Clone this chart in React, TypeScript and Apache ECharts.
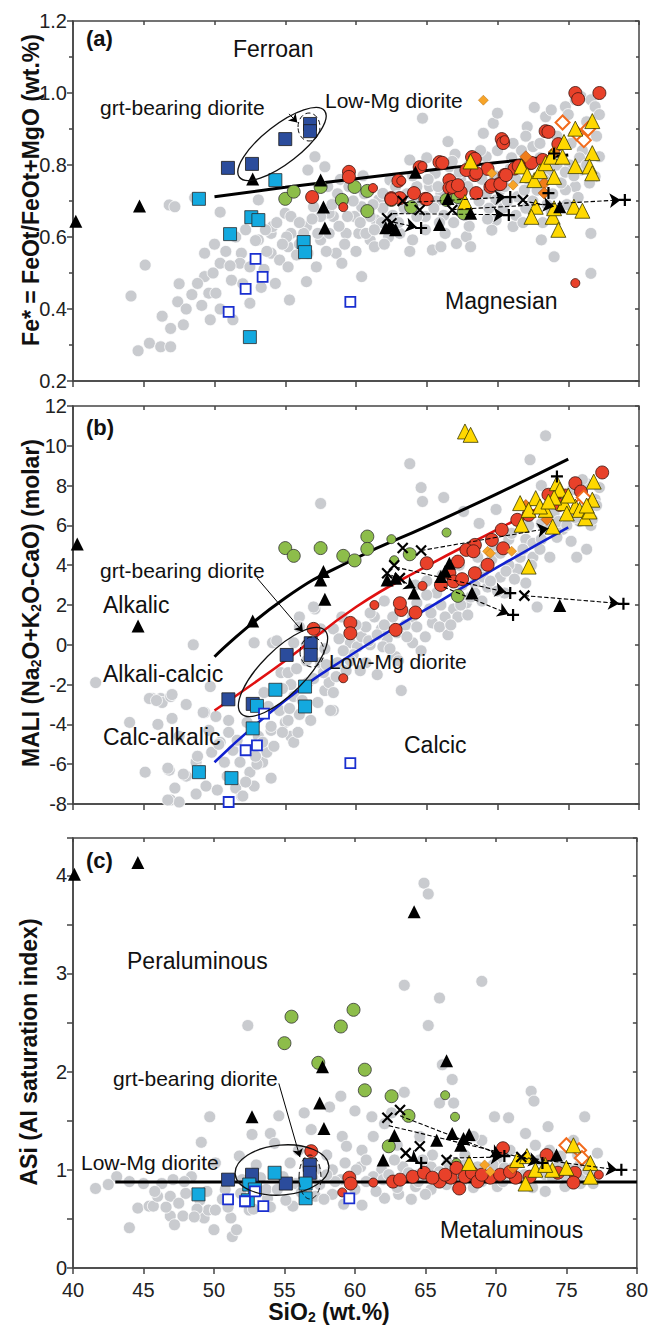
import React, { useEffect, useRef } from 'react';
import * as echarts from 'echarts';

const FONT = '"Liberation Sans", Arial, Helvetica, sans-serif';

// ---------- axes ----------
const siO2Range = [40, 80];
const feRange = [0.2, 1.2];
const maliRange = [-8, 12];
const asiRange = [0, 4.38];

// ---------- panel (a) Fe* ----------
const grayA = [[44.6,0.284],[45.4,0.305],[46.2,0.295],[46.9,0.295],[46.9,0.346],[47.8,0.356],[44.1,0.436],[45.1,0.522],[46.8,0.689],[47.2,0.684],[48.6,0.709],[49.3,0.555],[49.3,0.49],[48.8,0.471],[49.6,0.444],[50.1,0.444],[49.7,0.37],[50.4,0.527],[50.4,0.669],[51.2,0.48],[51.3,0.37],[51.9,0.555],[51.8,0.527],[52.5,0.416],[52.5,0.517],[53.1,0.592],[54.0,0.61],[54.1,0.629],[53.1,0.703],[54.0,0.555],[54.3,0.471],[54.6,0.536],[55.2,0.573],[55.2,0.517],[55.3,0.425],[55.0,0.666],[55.4,0.657],[56.5,0.629],[56.5,0.476],[56.3,0.61],[56.6,0.555],[57.2,0.517],[57.1,0.823],[57.5,0.592],[58.1,0.61],[58.4,0.657],[58.6,0.555],[59.0,0.527],[59.3,0.61],[59.9,0.657],[60.4,0.49],[60.2,0.61],[60.4,0.684],[61.0,0.592],[61.3,0.573],[61.4,0.647],[61.6,0.703],[61.9,0.721],[62.4,0.758],[62.8,0.74],[63.1,0.61],[63.8,0.814],[64.0,0.592],[64.3,0.74],[64.7,0.93],[64.9,0.657],[65.4,0.564],[65.6,0.777],[66.0,0.573],[66.5,0.865],[66.6,0.795],[67.1,0.582],[67.8,0.601],[68.1,0.573],[69.0,0.888],[69.2,0.823],[69.7,0.916],[70.0,0.944],[69.9,0.703],[69.9,0.647],[71.1,0.86],[71.1,0.629],[72.1,0.906],[72.5,0.851],[73.1,0.592],[73.4,0.934],[73.8,0.953],[74.8,0.962],[74.0,0.545],[75.5,0.981],[75.9,0.99],[76.6,0.981],[76.9,0.962],[77.2,0.823],[76.6,0.61],[76.6,0.499],[75.5,0.74],[75.9,0.786],[74.8,0.731],[76.9,0.768],[71.4,0.712],[70.2,0.731],[69.6,0.619],[67.4,0.758],[65.2,0.74],[64.3,0.657],[62.9,0.712],[61.0,0.657],[60.7,0.61],[59.4,0.657],[58.7,0.703],[58.1,0.666],[57.5,0.657],[57.0,0.684],[56.6,0.786],[57.8,0.795],[55.4,0.61],[66.0,0.72],[65.7,0.70],[67.9,0.74],[68.7,0.70],[70.4,0.68],[72.5,0.70],[73.9,0.72],[72.3,0.75],[73.7,0.78],[75.1,0.80],[71.3,0.66],[69.3,0.65],[63.4,0.68],[64.9,0.62],[66.3,0.61],[68.0,0.63],[61.9,0.68],[60.3,0.64],[59.2,0.58],[57.9,0.56],[56.0,0.58],[55.1,0.60],[53.7,0.56],[52.9,0.59],[53.5,0.51],[51.5,0.60],[50.8,0.56],[49.9,0.50],[48.4,0.44],[47.4,0.42],[46.3,0.38],[52.0,0.47],[50.4,0.40],[53.3,0.46],[58.7,0.72],[62.6,0.66],[65.5,0.68],[67.5,0.69],[71.9,0.73],[74.5,0.75],[73.0,0.82],[70.9,0.79],[68.3,0.77],[75.2,0.86],[74.2,0.88],[76.0,0.84],[76.3,0.92],[73.0,0.86],[71.7,0.84],[58.0,0.74],[58.9,0.76],[59.8,0.70],[60.6,0.72],[61.2,0.69],[61.8,0.64],[62.3,0.60],[63.0,0.64],[63.6,0.72],[64.4,0.70],[64.0,0.77],[65.1,0.76],[65.8,0.74],[66.2,0.66],[66.9,0.64],[67.3,0.78],[68.0,0.80],[68.9,0.76],[69.2,0.72],[69.8,0.77],[70.5,0.74],[70.7,0.70],[71.3,0.76],[72.0,0.68],[72.8,0.73],[73.3,0.76],[73.5,0.69],[74.2,0.80],[74.8,0.78],[75.4,0.77],[75.8,0.82],[76.3,0.80],[76.5,0.75],[75.7,0.71],[74.9,0.69],[73.8,0.67],[70.0,0.84],[71.0,0.82],[68.8,0.84],[67.0,0.83],[66.8,0.81],[65.0,0.82],[60.5,0.77],[59.5,0.74],[58.3,0.69],[56.9,0.65],[56.0,0.64],[55.8,0.55],[54.8,0.58],[54.4,0.64],[53.6,0.62],[52.2,0.62],[51.1,0.52],[50.0,0.58],[49.1,0.41],[48.0,0.40],[47.5,0.47],[61.3,0.62],[62.0,0.58],[60.0,0.56],[58.8,0.63],[57.3,0.61],[63.8,0.56],[65.9,0.64],[67.7,0.66],[69.4,0.68],[71.8,0.64],[73.2,0.64],[77.0,0.88],[77.2,0.94],[75.0,0.94],[72.6,0.96],[72.0,0.88]];
const redA = [[75.5,1.0],[75.7,0.983],[77.2,1.0],[73.4,0.894],[70.3,0.872],[70.4,0.861],[65.9,0.808],[68.2,0.822],[69.3,0.789],[68.4,0.772],[67.8,0.786],[70.5,0.772],[71.2,0.79],[72.3,0.805],[66.6,0.758],[67.0,0.739],[67.4,0.725],[66.6,0.736],[68.5,0.722],[69.5,0.739],[70.1,0.747],[64.5,0.794],[63.0,0.756],[64.1,0.722],[62.5,0.708],[63.1,0.708],[64.9,0.706],[59.5,0.781],[59.5,0.767],[56.9,0.711],[62.5,0.705],[65.0,0.705],[66.1,0.806],[66.8,0.739],[67.2,0.744],[68.4,0.817],[68.5,0.778],[69.6,0.744],[70.2,0.747],[70.6,0.772],[71.5,0.797],[72.4,0.806],[73.6,0.892],[74.3,0.858],[73.2,0.814]];
const redSmallA = [[59.1,0.683],[61.2,0.736],[63.2,0.756],[64.7,0.797],[75.5,0.472],[70.5,0.869]];
const greenA = [[55.0,0.706],[55.6,0.726],[57.5,0.739],[59.9,0.739],[59.0,0.703],[60.8,0.728],[60.8,0.672],[62.5,0.703],[63.9,0.683],[66.4,0.703],[67.2,0.711],[67.6,0.666]];
const greenSmallA = [];
const yellowA = [[67.7,0.697],[68.1,0.81],[71.7,0.796],[72.1,0.772],[72.6,0.758],[73.0,0.783],[73.4,0.805],[73.8,0.823],[74.0,0.767],[74.6,0.823],[74.7,0.864],[75.5,0.901],[75.5,0.797],[76.7,0.922],[76.7,0.833],[76.5,0.796],[76.7,0.777],[72.7,0.684],[72.4,0.656],[73.9,0.656],[74.0,0.68],[74.3,0.62],[75.4,0.684],[76.0,0.673]];
const blackTriA = [[40.2,0.644],[44.7,0.686],[52.7,0.761],[57.5,0.758],[57.7,0.683],[57.8,0.625],[64.2,0.78],[62.1,0.626],[62.8,0.62],[65.9,0.635],[68.1,0.666],[66.5,0.707],[74.4,0.684],[62.4,0.632]];
const darkBlueA = [[56.75,0.914],[56.75,0.894],[55.0,0.872],[52.65,0.803],[50.95,0.792]];
const cyanA = [[48.9,0.706],[54.3,0.758],[52.6,0.655],[53.1,0.647],[51.1,0.608],[56.3,0.586],[56.4,0.558],[52.5,0.322]];
const openBlueA = [[52.9,0.539],[53.4,0.489],[52.2,0.456],[51.0,0.392],[59.6,0.42]];
const orangeFillA = [[72.0,0.823],[73.3,0.749],[73.3,0.722],[74.0,0.836]];
const orangeOpenA = [[74.6,0.918],[75.6,0.888],[76.1,0.869],[76.4,0.9]];
const lightOrangeA = [[69.0,0.98],[69.6,0.777],[71.1,0.744]];
const crossA = [[62.2,0.652],[62.5,0.638],[63.3,0.70],[64.5,0.675],[66.8,0.675],[71.8,0.703]];
const plusA = [[64.6,0.625],[70.8,0.661],[70.9,0.711],[73.6,0.722],[74.0,0.832],[79.0,0.703]];
const arrowsA = [[[62.2,0.645],[64.3,0.627]],[[62.6,0.665],[70.5,0.662]],[[63.4,0.695],[70.6,0.711]],[[66.8,0.676],[78.7,0.703]],[[71.8,0.70],[74.0,0.685]]];
const pointerA = [[[55.27,0.942],[55.85,0.918]]];
const feBoundary = [[50,0.712],[55,0.738],[60,0.762],[65,0.785],[70,0.807],[75,0.828]];

// ---------- panel (b) MALI ----------
const grayB = [[41.6,-1.9],[45.1,-6.4],[45.6,-2.7],[46.2,-2.7],[46.3,-2.9],[46.9,-2.6],[46.8,-6.3],[46.9,-7.8],[47.5,-7.9],[47.2,-7.2],[48.0,-6.6],[48.5,0.0],[48.7,-5.9],[49.4,-7.1],[49.7,-2.1],[49.3,-3.4],[49.6,-4.3],[50.1,-3.6],[50.4,-4.9],[50.7,-5.9],[51.3,-5.3],[51.8,-5.9],[51.9,-7.6],[52.5,-6.4],[52.8,0.1],[53.1,-4.6],[52.8,-7.1],[53.4,-5.9],[54.0,-6.7],[53.7,-5.4],[54.0,-4.3],[54.1,0.1],[54.7,-1.4],[55.0,-3.9],[55.4,-4.6],[55.6,-4.9],[56.0,1.4],[55.6,-2.6],[56.0,-3.5],[57.1,1.8],[56.6,-1.9],[57.5,7.1],[57.5,-0.9],[57.8,-2.3],[58.1,-1.9],[58.4,-3.3],[58.7,-0.9],[59.3,-1.3],[59.6,0.1],[60.1,-0.1],[60.4,0.4],[60.7,0.9],[61.3,1.4],[61.8,0.8],[62.2,0.3],[62.6,1.4],[63.2,-2.3],[63.1,0.8],[63.8,9.1],[64.0,1.4],[64.3,2.1],[64.6,7.9],[64.7,7.2],[65.2,1.8],[65.7,2.6],[66.2,7.4],[66.5,0.5],[66.6,3.8],[66.9,1.8],[67.2,1.4],[67.6,6.7],[67.8,2.1],[68.4,3.1],[68.7,6.1],[69.0,3.8],[69.6,4.3],[69.9,6.8],[70.2,4.6],[70.5,2.6],[70.8,5.3],[71.4,3.8],[72.0,5.3],[72.0,3.1],[72.3,9.3],[72.8,1.9],[73.1,6.1],[73.4,10.5],[73.7,4.4],[74.0,6.6],[74.6,5.8],[75.6,4.4],[76.3,4.8],[76.3,8.1],[77.2,7.9],[76.9,7.3],[73.1,8.0],[60.7,-0.9],[61.9,-0.1],[62.8,-0.6],[64.0,0.1],[64.6,-0.3],[65.4,1.1],[66.3,1.4],[68.1,2.4],[69.3,2.9],[70.2,3.4],[71.6,4.4],[72.5,5.1],[73.1,5.3],[58.4,0.8],[59.0,1.4],[57.5,0.8],[56.5,0.0],[45.4,-2.7],[45.9,-2.8],[47.0,-2.5],[44.0,-3.9],[47.0,-3.7],[49.2,-3.4],[48.8,-5.6],[49.8,-5.4],[46.7,-6.2],[47.8,-6.5],[48.7,-7.5],[46.7,-7.8],[51.5,-7.2],[52.0,-7.6],[54.0,-4.1],[55.2,-3.8],[55.9,-4.4],[55.2,-1.4],[55.4,-2.0],[57.0,-1.7],[57.7,-1.4],[58.4,-2.4],[58.2,-3.3],[57.0,1.9],[54.4,0.2],[55.6,0.1],[56.0,0.9],[53.0,-6.0],[50.9,-6.6],[52.2,-6.9],[51.0,-4.4],[54.6,-3.3],[53.5,-2.4],[59.8,-0.5],[61.0,0.0],[62.0,1.0],[63.5,1.0],[65.0,2.5],[66.0,2.0],[67.5,3.0],[69.0,3.4],[70.8,4.0],[72.5,4.4],[74.2,5.4],[75.2,5.2],[76.6,6.0],[75.8,6.2],[61.5,-1.5],[63.0,-0.8],[50.3,-5.0],[51.0,-3.8],[51.6,-4.8],[52.3,-3.9],[52.9,-5.6],[53.4,-4.9],[54.2,-5.1],[54.8,-4.4],[55.3,-3.2],[56.2,-2.8],[56.8,-3.8],[57.3,-2.9],[57.9,-1.0],[58.6,-1.6],[59.1,-0.3],[59.6,-0.8],[60.3,-1.3],[60.9,0.2],[61.5,0.5],[62.4,-0.2],[62.9,0.6],[63.6,0.4],[64.3,0.9],[64.9,0.4],[65.3,1.6],[65.9,0.9],[66.7,1.0],[67.4,2.0],[67.9,1.5],[68.4,2.6],[68.9,2.2],[69.5,3.2],[70.0,2.7],[70.6,3.7],[71.2,3.3],[71.8,4.8],[72.4,4.0],[73.0,4.8],[73.6,5.8],[74.3,6.2],[74.9,6.0],[75.5,6.4],[76.1,6.6],[76.7,6.3],[77.0,7.0],[75.3,7.8],[76.0,8.3],[74.5,7.2],[72.2,6.0],[71.0,5.6],[69.8,5.0],[68.6,4.4],[67.3,4.0],[66.1,3.5],[65.0,3.2],[64.2,3.0],[62.0,2.2],[61.0,1.6],[60.0,1.0],[58.8,0.3],[57.8,-0.2],[56.5,-0.8],[55.8,-1.2],[54.8,-2.2],[53.8,-3.1],[48.0,-3.0],[47.5,-4.6],[46.0,-4.0],[49.0,-6.3],[50.2,-7.3]];
const redB = [[77.4,8.66],[75.5,8.12],[75.9,7.7],[73.6,7.54],[74.4,7.03],[72.2,6.53],[71.4,6.28],[70.3,5.78],[69.6,5.27],[68.4,5.02],[67.8,4.77],[67.2,4.18],[66.6,3.6],[66.0,3.01],[66.9,3.18],[68.4,3.6],[69.3,4.02],[70.4,4.85],[65.0,4.1],[63.2,1.75],[63.1,2.09],[64.2,1.62],[59.6,1.1],[59.6,0.58],[62.8,0.75],[57.0,0.8],[68.3,4.7],[67.5,3.3]];
const redSmallB = [[64.7,2.96],[61.3,2.0],[59.1,-1.68],[74.8,7.6]];
const greenB = [[55.0,4.86],[55.6,4.47],[57.5,4.86],[59.1,4.47],[59.9,4.24],[60.8,5.44],[60.8,4.82],[63.8,4.55],[67.2,2.46]];
const greenSmallB = [[62.5,5.31],[66.4,5.64],[62.7,4.25]];
const yellowB = [[67.7,10.72],[68.1,10.55],[72.2,3.93],[71.6,7.12],[72.7,7.37],[73.4,6.78],[74.2,8.12],[74.4,7.79],[73.9,5.94],[74.7,7.12],[75.5,6.95],[75.8,6.78],[76.2,6.36],[76.7,7.29],[76.8,8.2],[76.5,6.7],[74.9,6.6],[72.2,6.78],[73.0,6.95],[71.7,6.03],[74.0,7.4],[75.0,7.5],[76.3,7.0],[73.6,7.2]];
const blackTriB = [[40.3,5.06],[44.6,0.95],[52.7,1.2],[57.5,3.26],[57.7,3.68],[57.8,2.29],[62.2,3.26],[62.8,3.35],[64.1,2.6],[66.0,3.43],[66.6,4.1],[68.2,2.6],[74.4,1.97],[66.3,3.7]];
const darkBlueB = [[50.98,-2.74],[52.7,-2.97],[55.1,-0.51],[56.8,0.08],[56.8,-0.51]];
const cyanB = [[54.3,-2.26],[56.4,-2.1],[56.4,-3.1],[53.0,-3.07],[52.7,-4.2],[48.9,-6.4],[51.2,-6.7]];
const openBlueB = [[53.5,-3.46],[52.2,-5.3],[53.0,-5.05],[51.0,-7.9],[59.6,-5.95]];
const orangeFillB = [[72.0,7.0],[73.5,6.3]];
const orangeOpenB = [[75.8,7.0],[76.1,7.4]];
const lightOrangeB = [[69.3,4.7],[69.5,4.6],[71.0,4.7]];
const crossB = [[63.3,4.86],[64.6,4.74],[62.7,4.0],[62.2,3.6],[63.1,3.35],[71.9,2.47]];
const plusB = [[74.2,8.46],[70.9,2.6],[71.1,1.5],[78.9,2.06]];
const arrowsB = [[[64.6,4.74],[73.6,5.85]],[[62.8,3.9],[70.6,2.65]],[[66.2,2.9],[70.8,1.55]],[[71.9,2.47],[78.6,2.08]],[[62.5,3.5],[64.2,2.85]]];
const pointerB = [[[53.0,3.36],[56.25,0.65]]];
const alkalicBoundary = [[50,-0.6],[55,2.35],[60,4.35],[65,5.95],[70,7.6],[75,9.33]];
const alkaliCalcicBoundary = [[50,-3.3],[55,-0.8],[60,1.9],[65,3.95],[70,5.8],[75,7.65]];
const calcAlkalicBoundary = [[50,-5.9],[55,-2.8],[60,-0.35],[65,1.8],[70,3.9],[75,5.9]];

// ---------- panel (c) ASI ----------
const grayC = [[64.9,3.92],[65.2,3.81],[63.5,2.88],[69.0,2.92],[66.0,2.75],[65.2,2.47],[52.4,2.47],[49.7,1.54],[49.1,1.28],[52.7,1.36],[59.0,1.75],[58.2,1.64],[56.4,1.58],[56.9,1.41],[59.1,1.34],[59.4,1.24],[61.2,1.54],[63.5,1.79],[66.2,2.07],[66.9,1.92],[66.0,1.68],[67.0,1.68],[69.9,1.54],[70.9,1.53],[72.5,1.8],[72.7,1.7],[76.3,1.54],[73.7,1.44],[72.1,1.37],[69.0,1.3],[68.4,1.34],[64.6,1.34],[62.1,1.47],[61.3,1.34],[54.0,1.37],[54.3,1.27],[51.8,1.14],[50.1,1.07],[48.4,0.93],[47.1,0.9],[46.3,0.86],[45.0,0.86],[43.1,0.93],[41.6,0.81],[44.6,0.61],[45.4,0.63],[45.7,0.63],[44.0,0.41],[46.9,0.73],[46.9,0.53],[47.5,0.66],[47.2,0.44],[47.8,0.53],[49.3,0.51],[49.6,0.59],[50.1,0.59],[50.0,0.39],[51.2,0.51],[51.3,0.32],[51.6,0.39],[52.5,0.59],[53.8,0.71],[55.6,0.63],[57.2,0.73],[58.4,0.75],[60.5,0.64],[62.1,0.71],[63.1,0.75],[64.0,0.7],[55.4,1.07],[59.3,1.07],[60.4,1.03],[61.9,1.0],[63.4,1.03],[65.4,1.03],[66.6,1.07],[68.7,1.03],[70.1,1.1],[71.6,1.07],[73.1,1.1],[74.6,1.14],[76.0,1.07],[77.2,1.17],[73.5,0.78],[76.0,0.86],[76.9,0.86],[74.9,0.83],[70.1,0.83],[67.2,0.83],[65.4,0.8],[64.3,0.83],[62.8,0.86],[61.3,0.93],[60.1,1.0],[58.4,1.0],[57.2,1.0],[55.1,0.69],[53.7,0.8],[49.0,0.69],[50.8,0.8],[48.0,0.76],[53.0,1.05],[56.0,1.2],[58.0,1.15],[60.5,1.2],[63.0,1.25],[65.5,1.15],[67.8,1.15],[71.0,1.2],[72.8,1.25],[75.5,1.3],[62.0,0.9],[64.5,0.95],[66.0,0.98],[68.0,0.9],[69.5,0.98],[71.5,0.95],[73.5,0.95],[75.0,0.92],[59.0,0.9],[57.5,0.85],[54.5,0.8],[46.0,0.73],[48.8,0.6],[52.0,0.9],[62.6,1.58],[60.0,1.6],[54.6,1.55],[42.5,0.85],[44.0,0.88],[45.8,0.78],[46.6,0.62],[47.9,0.88],[48.6,0.52],[49.5,0.78],[50.6,0.70],[51.0,0.62],[51.9,0.76],[52.8,0.60],[53.3,0.92],[54.0,0.62],[54.9,0.93],[55.8,0.86],[56.2,0.77],[57.0,0.92],[57.8,0.70],[58.6,0.88],[59.2,0.65],[60.0,0.80],[60.8,0.88],[61.5,0.78],[62.4,0.95],[63.0,0.82],[63.8,0.97],[64.5,0.88],[65.0,0.75],[65.8,0.92],[66.5,0.85],[67.0,0.98],[67.6,0.88],[68.4,0.82],[69.0,0.88],[69.8,1.05],[70.5,0.88],[71.2,1.02],[72.0,0.95],[72.6,0.82],[73.3,0.98],[74.0,0.92],[74.5,1.05],[75.3,1.0],[76.0,0.95],[76.5,1.0],[77.0,0.95],[58.0,0.95],[56.6,1.05],[60.8,1.1],[62.8,1.1],[64.8,1.1],[67.8,1.05],[70.6,1.02],[73.8,1.2],[75.8,1.15]];
const redC = [[56.9,1.19],[59.6,0.92],[59.7,0.86],[62.7,0.88],[63.2,0.9],[64.1,0.93],[64.9,0.97],[66.0,0.88],[66.8,0.92],[67.2,1.02],[67.4,0.81],[67.8,0.93],[68.3,0.97],[68.7,0.88],[69.6,0.92],[70.3,0.95],[70.5,1.22],[71.4,0.92],[72.4,0.93],[73.6,1.15],[74.4,0.97],[75.6,0.97],[75.5,0.87],[65.5,0.92],[69.0,0.95],[66.4,0.95],[71.0,0.98]];
const redSmallC = [[59.1,0.77],[61.3,0.87],[77.3,0.95]];
const greenC = [[55.5,2.56],[55.0,2.29],[59.0,2.46],[59.9,2.63],[57.4,2.09],[60.7,2.02],[60.7,1.81],[62.6,1.75],[63.8,1.55],[62.4,1.24]];
const greenSmallC = [[66.4,1.76],[67.1,1.54],[67.2,1.07]];
const yellowC = [[75.5,1.25],[72.1,0.86],[72.8,1.0],[74.0,1.0],[71.5,1.1],[76.7,1.07],[76.7,0.93],[68.1,1.07],[72.2,1.14],[73.5,1.05],[75.0,1.02]];
const blackTriC = [[40.1,4.01],[44.6,4.13],[64.2,3.63],[57.7,2.05],[57.5,1.68],[57.8,1.42],[52.7,1.54],[66.5,2.11],[62.0,1.1],[62.8,1.35],[65.8,1.3],[66.9,1.37],[67.7,1.32],[68.1,1.36],[74.3,1.15],[67.5,1.25]];
const darkBlueC = [[51.0,0.9],[52.7,0.95],[55.1,0.86],[56.8,1.05],[56.8,0.97]];
const cyanC = [[48.9,0.75],[54.3,0.97],[52.5,0.85],[52.9,0.8],[56.5,0.86],[56.5,0.71],[52.4,0.69]];
const openBlueC = [[51.0,0.7],[52.2,0.68],[53.5,0.63],[59.6,0.71],[52.9,0.78]];
const orangeFillC = [[71.2,1.02]];
const orangeOpenC = [[75.0,1.25],[75.9,1.2],[76.1,1.12]];
const lightOrangeC = [[69.2,1.05],[69.6,0.98]];
const crossC = [[62.3,1.53],[63.2,1.61],[63.6,1.17],[64.6,1.24],[66.5,1.1],[71.8,1.13]];
const plusC = [[64.7,1.07],[70.6,1.14],[78.9,1.0],[73.3,1.07]];
const arrowsC = [[[63.2,1.55],[70.4,1.15]],[[62.4,1.45],[73.1,1.08]],[[63.6,1.17],[64.5,1.08]],[[66.5,1.12],[70.4,1.13]],[[71.8,1.13],[78.6,1.0]]];
const pointerC = [[[54.6,1.88],[56.1,1.13]]];
const asiBoundary = [[43,0.875],[80,0.875]];

const PLUS = 'path://M0,5L10,5M5,0L5,10';
const CROSS = 'path://M0,0L10,10M10,0L0,10';

function sc(g, data, symbol, size, color, border, bw, z) {
  return {
    type: 'scatter', xAxisIndex: g, yAxisIndex: g, data, symbol, symbolSize: size,
    itemStyle: { color, borderColor: border, borderWidth: bw, opacity: 1 }, z, silent: true, clip: false,
  };
}
function ln(g, data, color, width) {
  return { type: 'line', xAxisIndex: g, yAxisIndex: g, data, smooth: true, showSymbol: false, symbol: 'none',
    lineStyle: { color, width }, z: 3, silent: true };
}
function arrows(g, data, dashed) {
  return { type: 'lines', coordinateSystem: 'cartesian2d', xAxisIndex: g, yAxisIndex: g,
    data: data.map((c) => ({ coords: c })), symbol: ['none', 'arrow'], symbolSize: dashed ? 11 : 8,
    lineStyle: { color: '#000', width: dashed ? 1.1 : 1, type: dashed ? 'dashed' : 'solid', opacity: 1, curveness: 0 },
    z: 6, silent: true };
}
function panel(g, d) {
  return [
    sc(g, d.gray, 'circle', 12, '#c9cbcf', '#ffffff', 0.8, 1),
    ...d.bounds,
    sc(g, d.green, 'circle', 13, '#8dbd4a', '#333', 0.8, 4),
    sc(g, d.greenSmall, 'circle', 9, '#8dbd4a', '#333', 0.8, 4),
    sc(g, d.red, 'circle', 13, '#e8412a', '#3a1510', 0.8, 4),
    sc(g, d.redSmall, 'circle', 9, '#e8412a', '#3a1510', 0.8, 4),
    sc(g, d.orangeFill, 'diamond', 12, '#f07d1a', '#9a4a10', 0.6, 4),
    sc(g, d.lightOrange, 'diamond', 10, '#f7a428', '#b06a10', 0.5, 4),
    sc(g, d.orangeOpen, 'diamond', 14, '#ffffff', '#f26b1d', 2, 4),
    sc(g, d.yellow, 'triangle', 15, '#ffd800', '#3a3a00', 0.8, 5),
    sc(g, d.blackTri, 'triangle', 13, '#000', '#000', 0, 5),
    sc(g, d.darkBlue, 'rect', 13, '#2b4c9c', '#1a1a1a', 0.8, 5),
    sc(g, d.cyan, 'rect', 13, '#13a9df', '#2a2a2a', 0.8, 5),
    sc(g, d.openBlue, 'rect', 10, '#ffffff', '#1a2fd0', 1.8, 5),
    sc(g, d.cross, CROSS, 10, 'rgba(0,0,0,0)', '#000', 2.2, 7),
    sc(g, d.plus, PLUS, 12, 'rgba(0,0,0,0)', '#000', 2.2, 7),
    arrows(g, d.arrows, true),
    arrows(g, d.pointer, false),
  ];
}

const GRIDS = [
  { left: 73, top: 21, width: 566, height: 360 },
  { left: 73, top: 406, width: 566, height: 398 },
  { left: 73, top: 838, width: 566, height: 430 },
];
const AX = '#454545';

function xAxes() {
  const main = GRIDS.map((_, i) => ({
    gridIndex: i, type: 'value', min: siO2Range[0], max: siO2Range[1], interval: 5,
    axisLine: { show: true, onZero: false, lineStyle: { color: AX, width: 1.5 } },
    axisTick: { show: true, length: 6, lineStyle: { color: AX, width: 1.5 } },
    axisLabel: { show: i === 2, fontSize: 20, color: '#222', margin: 12, fontFamily: FONT },
    splitLine: { show: false },
  }));
  const inner = GRIDS.map((_, i) => ({
    gridIndex: i, type: 'value', min: siO2Range[0], max: siO2Range[1], interval: 5,
    axisLine: { show: false, onZero: false }, axisTick: { show: true, inside: true, length: 4, lineStyle: { color: AX, width: 1.5 } },
    axisLabel: { show: false }, splitLine: { show: false },
  }));
  return [...main, ...inner];
}
const yRanges = [feRange, maliRange, asiRange];
const yIntervals = [0.2, 2, 0.5];
const yFmt = [
  (v) => v.toFixed(1),
  (v) => String(Math.round(v)),
  (v) => (Math.abs(v - Math.round(v)) < 1e-6 ? String(Math.round(v)) : ''),
];
function yAxes() {
  const main = GRIDS.map((_, i) => ({
    gridIndex: i, type: 'value', min: yRanges[i][0], max: yRanges[i][1], interval: yIntervals[i],
    axisLine: { show: true, onZero: false, lineStyle: { color: AX, width: 1.5 } },
    axisTick: { show: true, length: 6, lineStyle: { color: AX, width: 1.5 } },
    minorTick: { show: i === 0, splitNumber: 2, length: 4, lineStyle: { color: AX, width: 1.5 } },
    axisLabel: { show: true, fontSize: 20, color: '#222', margin: 6, fontFamily: FONT, formatter: yFmt[i], showMaxLabel: true },
    splitLine: { show: false }, minorSplitLine: { show: false },
  }));
  const inner = GRIDS.map((_, i) => ({
    gridIndex: i, type: 'value', min: yRanges[i][0], max: yRanges[i][1], interval: yIntervals[i],
    axisLine: { show: false, onZero: false },
    axisTick: { show: true, inside: true, length: 4, lineStyle: { color: AX, width: 1.5 } },
    minorTick: { show: i === 0, splitNumber: 2, length: 3, lineStyle: { color: AX, width: 1.5 } },
    axisLabel: { show: false }, splitLine: { show: false }, minorSplitLine: { show: false },
  }));
  return [...main, ...inner];
}

function txt(x, y, text, size, bold, extra = {}) {
  return {
    type: 'text', x, y, z: 20, silent: true, ...extra,
    style: { text, fontSize: size, fontWeight: bold ? 'bold' : 'normal', fontFamily: FONT, fill: '#111',
      align: 'left', textAlign: 'left', verticalAlign: 'middle', textVerticalAlign: 'middle' },
  };
}
function rotTitle(x, y, text, rich) {
  return {
    type: 'text', x, y, rotation: Math.PI / 2, z: 20, silent: true,
    style: { text, fontSize: 23, fontWeight: 'bold', fontFamily: FONT, fill: '#111', align: 'center', textAlign: 'center',
      verticalAlign: 'middle', textVerticalAlign: 'middle', rich },
  };
}
function ell(x, y, rx, ry, deg, dashed) {
  return {
    type: 'ellipse', x, y, rotation: (deg * Math.PI) / 180, z: 15, silent: true,
    shape: { cx: 0, cy: 0, rx, ry },
    style: { fill: 'none', stroke: '#111', lineWidth: dashed ? 1 : 1.3, lineDash: dashed ? [5, 3] : null },
  };
}

const subRich = {
  b: { fontSize: 23, fontWeight: 'bold', fontFamily: FONT, fill: '#111' },
  s: { fontSize: 14, fontWeight: 'bold', fontFamily: FONT, fill: '#111', padding: [10, 0, 0, 0] },
};

export default function App() {
  const ref = useRef(null);
  useEffect(() => {
    const chart = echarts.init(ref.current, null, { renderer: 'svg' });
    const series = [
      ...panel(0, { gray: grayA, red: redA, redSmall: redSmallA, green: greenA, greenSmall: greenSmallA, yellow: yellowA,
        blackTri: blackTriA, darkBlue: darkBlueA, cyan: cyanA, openBlue: openBlueA, orangeFill: orangeFillA,
        orangeOpen: orangeOpenA, lightOrange: lightOrangeA, cross: crossA, plus: plusA, arrows: arrowsA, pointer: pointerA,
        bounds: [ln(0, feBoundary, '#000', 3)] }),
      ...panel(1, { gray: grayB, red: redB, redSmall: redSmallB, green: greenB, greenSmall: greenSmallB, yellow: yellowB,
        blackTri: blackTriB, darkBlue: darkBlueB, cyan: cyanB, openBlue: openBlueB, orangeFill: orangeFillB,
        orangeOpen: orangeOpenB, lightOrange: lightOrangeB, cross: crossB, plus: plusB, arrows: arrowsB, pointer: pointerB,
        bounds: [ln(1, alkalicBoundary, '#000', 3), ln(1, alkaliCalcicBoundary, '#e01010', 2.6), ln(1, calcAlkalicBoundary, '#1020d0', 2.6)] }),
      ...panel(2, { gray: grayC, red: redC, redSmall: redSmallC, green: greenC, greenSmall: greenSmallC, yellow: yellowC,
        blackTri: blackTriC, darkBlue: darkBlueC, cyan: cyanC, openBlue: openBlueC, orangeFill: orangeFillC,
        orangeOpen: orangeOpenC, lightOrange: lightOrangeC, cross: crossC, plus: plusC, arrows: arrowsC, pointer: pointerC,
        bounds: [ln(2, asiBoundary, '#000', 3)] }),
    ];
    const graphic = [
      // panel a
      txt(86, 38, '(a)', 22, true),
      txt(233, 49, 'Ferroan', 23, false),
      txt(100, 107, 'grt-bearing diorite', 21, false),
      txt(325, 100, 'Low-Mg diorite', 21, false),
      txt(445, 301, 'Magnesian', 23, false),
      ell(282, 144, 54, 19, 38, false),
      ell(309, 127, 11, 14, 0, true),
      // panel b
      txt(86, 427, '(b)', 22, true),
      txt(103, 605, 'Alkalic', 23, false),
      txt(103, 674, 'Alkali-calcic', 23, false),
      txt(103, 737, 'Calc-alkalic', 23, false),
      txt(404, 745, 'Calcic', 23, false),
      txt(100, 570, 'grt-bearing diorite', 21, false),
      txt(329, 661, 'Low-Mg diorite', 21, false),
      ell(283, 672, 59, 22, 45, false),
      ell(312, 652, 12, 15, 0, true),
      // panel c
      txt(86, 860, '(c)', 22, true),
      txt(127, 961, 'Peraluminous', 23, false),
      txt(113, 1078, 'grt-bearing diorite', 21, false),
      txt(81, 1162, 'Low-Mg diorite', 21, false),
      txt(440, 1230, 'Metaluminous', 23, false),
      ell(282, 1170, 47, 25, 5, false),
      ell(310, 1177, 11, 22, 0, true),
      // axis titles
      rotTitle(31, 190, 'Fe* = FeOt/FeOt+MgO (wt.%)', undefined),
      rotTitle(31, 603, '{b|MALI (Na}{s|2}{b|O+K}{s|2}{b|O-CaO) (molar)}', subRich),
      rotTitle(29, 1052, 'ASi (AI saturation index)', undefined),
      {
        type: 'text', x: 329, y: 1312, z: 20, silent: true,
        style: { text: '{b|SiO}{s|2}{b| (wt.%)}', rich: subRich, fontFamily: FONT, fill: '#111', align: 'center', textAlign: 'center',
          verticalAlign: 'middle', textVerticalAlign: 'middle' },
      },
    ];
    chart.setOption({
      animation: false,
      backgroundColor: '#ffffff',
      grid: GRIDS.map((g) => ({ ...g, show: true, borderColor: AX, borderWidth: 1.5, backgroundColor: 'transparent' })),
      xAxis: xAxes(),
      yAxis: yAxes(),
      series,
      graphic,
    });
    return () => chart.dispose();
  }, []);
  return <div ref={ref} style={{ position: 'absolute', left: 0, top: 0, width: 651, height: 1328 }} />;
}
